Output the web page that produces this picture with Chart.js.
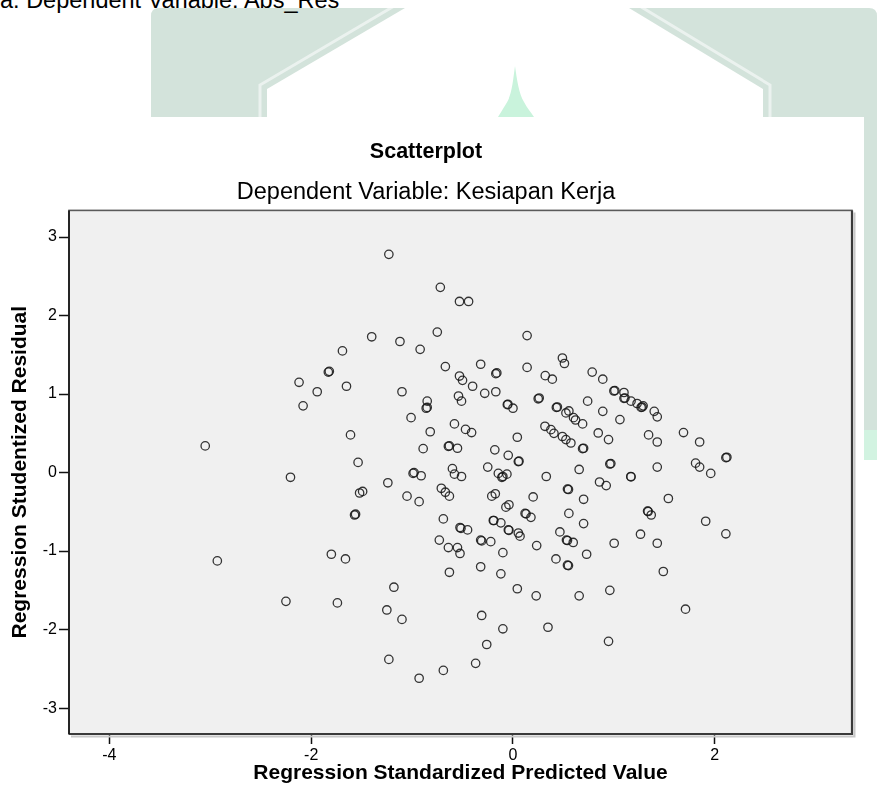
<!DOCTYPE html>
<html>
<head>
<meta charset="utf-8">
<script src="https://cdn.jsdelivr.net/npm/chart.js@4"></script>
<style>
html,body{margin:0;padding:0;background:#fff;}
#wrap{position:relative;width:877px;height:799px;overflow:hidden;background:#fff;}
#bg{position:absolute;left:0;top:0;}
#toptext{position:absolute;left:0;top:-11px;font:23.5px "Liberation Sans",Arial,sans-serif;line-height:1;color:#000;white-space:nowrap;}
#panel{position:absolute;left:0;top:117px;width:864px;height:682px;background:#fff;}
#c{position:absolute;left:0;top:0;}
</style>
</head>
<body>
<div id="wrap">
<svg id="bg" width="877" height="799" xmlns="http://www.w3.org/2000/svg">
  <path d="M151,16 Q151,8 159,8 L869,8 Q877,8 877,16 L877,430 L151,430 Z" fill="#d3e3db"/>
  <rect x="864" y="430" width="13" height="30" fill="#d2f3e1"/>
  <polyline points="260,470 260,85 401,2" fill="none" stroke="#ffffff" stroke-opacity="0.55" stroke-width="3"/>
  <polyline points="633,2 770,85 770,470" fill="none" stroke="#ffffff" stroke-opacity="0.55" stroke-width="3"/>
  <polygon points="267,470 267,89 405,8 629,8 763,89 763,470" fill="#ffffff"/>
  <path d="M515,66 C513,80 512,95 506,104 C502,110 500,114 498,117 L534,117 C531,112 527,108 524,102 C519,94 517,80 515,66 Z" fill="#c9f3dc"/>
</svg>
<div id="toptext">a. Dependent Variable: Abs_Res</div>
<div id="panel"></div>
<canvas id="c" width="877" height="799"></canvas>
</div>
<script>
// Regression Standardized Predicted Value (x) and Regression Studentized Residual (y)
const xValues = [
 -1.23,-0.72,-0.53,-0.44,-1.40,-1.69,-1.12,-0.92,-0.75,-1.83,-1.82,-2.12,-1.94,-2.08,-1.65,-1.10,
 -0.67,-0.32,-0.17,-0.16,-0.53,-0.50,-0.40,-0.28,-0.17,-0.85,-0.86,-0.85,-0.54,-0.51,-1.01,-0.58,
 -0.82,-0.47,-0.41,-1.61,-0.89,-0.64,-0.63,-0.55,-0.18,-3.05,-1.535,-0.25,-0.145,-2.205,-0.99,-0.98,
 -0.91,-0.60,-0.58,-0.51,-1.24,-1.52,-1.49,-1.05,-0.93,-0.71,-0.67,-0.63,-0.21,-0.175,-1.57,-1.56,
 -0.69,-0.525,-0.515,-0.45,-0.195,-0.73,-0.64,-0.55,-0.525,-0.32,-0.31,-0.22,-1.80,-1.66,-2.93,-0.63,
 -0.32,-1.18,-2.25,-1.74,-1.25,-1.10,-0.31,-0.26,-1.23,-0.69,-0.37,-0.93,
 0.14,0.14,0.32,0.39,0.49,0.51,0.785,0.89,0.25,0.26,-0.056,-0.05,0.00,0.043,-0.047,0.053,
 0.06,-0.10,-0.11,-0.06,0.33,0.43,0.44,0.525,0.554,0.60,0.62,0.69,0.317,0.376,0.406,0.49,
 0.525,0.574,0.69,0.70,0.74,0.89,1.06,0.845,0.947,1.00,1.01,1.10,1.10,1.11,1.17,1.23,
 1.27,1.28,1.29,1.40,1.43,1.344,1.43,1.69,1.85,2.11,2.12,1.81,1.85,1.96,0.656,0.96,
 0.97,1.43,1.168,1.17,0.858,0.924,1.54,0.54,0.55,0.70,0.20,-0.07,-0.04,0.12,0.13,0.178,
 0.554,0.70,1.334,1.34,1.37,1.91,2.11,-0.19,-0.12,-0.046,-0.04,0.053,0.07,0.465,0.53,0.54,
 0.597,0.235,0.73,1.003,1.264,1.43,-0.10,0.426,0.54,0.55,-0.12,1.49,0.043,0.23,0.656,0.96,
 1.71,-0.10,0.347,0.947
];
const yValues = [
 2.78,2.36,2.18,2.18,1.73,1.55,1.67,1.57,1.79,1.28,1.29,1.15,1.03,0.85,1.10,1.03,
 1.35,1.38,1.26,1.27,1.23,1.175,1.10,1.01,1.03,0.91,0.82,0.83,0.975,0.91,0.70,0.62,
 0.52,0.55,0.51,0.48,0.305,0.335,0.34,0.31,0.29,0.34,0.13,0.07,-0.01,-0.06,-0.01,0.00,
 -0.04,0.05,-0.02,-0.05,-0.13,-0.26,-0.24,-0.30,-0.37,-0.20,-0.25,-0.30,-0.30,-0.27,-0.54,-0.53,
 -0.59,-0.70,-0.71,-0.73,-0.61,-0.86,-0.955,-0.955,-1.03,-0.86,-0.87,-0.88,-1.04,-1.10,-1.125,-1.27,
 -1.20,-1.46,-1.64,-1.66,-1.75,-1.87,-1.82,-2.19,-2.38,-2.52,-2.43,-2.62,
 1.745,1.34,1.235,1.19,1.46,1.39,1.28,1.19,0.94,0.95,0.865,0.87,0.82,0.45,0.22,0.14,
 0.145,-0.05,-0.06,-0.02,-0.05,0.83,0.835,0.76,0.785,0.70,0.67,0.62,0.59,0.547,0.50,0.46,
 0.42,0.377,0.305,0.31,0.91,0.78,0.675,0.505,0.42,1.04,1.045,1.02,0.946,0.95,0.91,0.88,
 0.83,0.835,0.85,0.78,0.71,0.48,0.39,0.51,0.39,0.19,0.195,0.12,0.07,-0.01,0.04,0.11,
 0.115,0.07,-0.05,-0.055,-0.12,-0.166,-0.33,-0.21,-0.215,-0.34,-0.31,-0.44,-0.41,-0.52,-0.525,-0.57,
 -0.52,-0.65,-0.49,-0.495,-0.54,-0.62,-0.78,-0.61,-0.64,-0.73,-0.735,-0.77,-0.81,-0.756,-0.86,-0.865,
 -0.89,-0.93,-1.04,-0.90,-0.785,-0.90,-1.02,-1.10,-1.18,-1.185,-1.29,-1.26,-1.48,-1.57,-1.57,-1.50,
 -1.74,-1.99,-1.97,-2.15
];
const xTicks = [-4, -2, 0, 2];
const yTicks = [-3, -2, -1, 0, 1, 2, 3];
const xLimits = [-4.4, 3.36];
const yLimits = [-3.33, 3.34];

const chartTitle = 'Scatterplot';
const chartSubtitle = 'Dependent Variable: Kesiapan Kerja';
const xTitle = 'Regression Standardized Predicted Value';
const yTitle = 'Regression Studentized Residual';

const points = xValues.map((x, i) => ({x: x, y: yValues[i]}));
const FONT = '"Liberation Sans", Arial, Helvetica, sans-serif';

const plotFrame = {
  id: 'plotFrame',
  beforeDatasetsDraw(chart) {
    const {ctx, chartArea: a} = chart;
    ctx.save();
    ctx.fillStyle = '#f0f0f0';
    ctx.fillRect(a.left, a.top, a.right - a.left, a.bottom - a.top);
    ctx.strokeStyle = '#c8c8c8';
    ctx.lineWidth = 2;
    ctx.beginPath();
    ctx.moveTo(a.right + 2.5, a.top + 2);
    ctx.lineTo(a.right + 2.5, a.bottom + 2.5);
    ctx.lineTo(a.left + 2, a.bottom + 2.5);
    ctx.stroke();
    ctx.strokeStyle = '#5a5a5a';
    ctx.lineWidth = 1.6;
    ctx.strokeRect(a.left, a.top, a.right - a.left, a.bottom - a.top);
    ctx.strokeStyle = '#3a3a3a';
    ctx.lineWidth = 2.2;
    ctx.beginPath();
    ctx.moveTo(a.right, a.top);
    ctx.lineTo(a.right, a.bottom);
    ctx.lineTo(a.left, a.bottom);
    ctx.stroke();
    ctx.strokeStyle = '#111';
    ctx.lineWidth = 1.6;
    ctx.beginPath();
    ctx.moveTo(a.left, a.top);
    ctx.lineTo(a.left, a.bottom);
    ctx.stroke();
    ctx.restore();
  }
};

new Chart(document.getElementById('c'), {
  type: 'scatter',
  data: {
    datasets: [{
      data: points,
      pointStyle: 'circle',
      pointRadius: 4.2,
      pointHoverRadius: 4.2,
      pointBorderWidth: 1.3,
      pointBorderColor: 'rgba(25,25,25,0.88)',
      pointBackgroundColor: 'rgba(0,0,0,0)'
    }]
  },
  options: {
    responsive: false,
    animation: false,
    devicePixelRatio: 1,
    layout: { padding: { top: 117, right: 25, left: 0, bottom: 0 } },
    plugins: {
      legend: { display: false },
      tooltip: { enabled: false },
      title: {
        display: true, text: chartTitle, color: '#000',
        font: { family: FONT, size: 21.5, weight: 'bold', lineHeight: 1.2 },
        padding: { top: 22.1, bottom: 4 }
      },
      subtitle: {
        display: true, text: chartSubtitle, color: '#000',
        font: { family: FONT, size: 23.5, weight: 'normal', lineHeight: 1.2 },
        padding: { top: 9.4, bottom: 3.9 }
      }
    },
    scales: {
      x: {
        type: 'linear', position: 'bottom',
        min: xLimits[0], max: xLimits[1],
        afterBuildTicks(scale) { scale.ticks = xTicks.map(v => ({value: v})); },
        afterFit(scale) { scale.height = 65; },
        border: { display: false },
        grid: { drawOnChartArea: false, drawTicks: true, tickLength: 10, tickColor: '#111', tickWidth: 1.5 },
        ticks: { color: '#000', font: { family: FONT, size: 16 }, padding: 2, maxRotation: 0 },
        title: {
          display: true, text: xTitle, color: '#000',
          font: { family: FONT, size: 21, weight: 'bold', lineHeight: 1.2 },
          padding: { top: 0, bottom: 13.4 }
        }
      },
      y: {
        type: 'linear', position: 'left',
        min: yLimits[0], max: yLimits[1],
        afterBuildTicks(scale) { scale.ticks = yTicks.map(v => ({value: v})); },
        afterFit(scale) { scale.width = 69; },
        border: { display: false },
        grid: { drawOnChartArea: false, drawTicks: true, tickLength: 10, tickColor: '#111', tickWidth: 1.5 },
        ticks: { color: '#000', font: { family: FONT, size: 16 }, padding: 2 },
        title: {
          display: true, text: yTitle, color: '#000',
          font: { family: FONT, size: 21, weight: 'bold', lineHeight: 1.2 },
          padding: { top: 7.4, bottom: 0 }
        }
      }
    }
  },
  plugins: [plotFrame]
});
</script>
</body>
</html>
